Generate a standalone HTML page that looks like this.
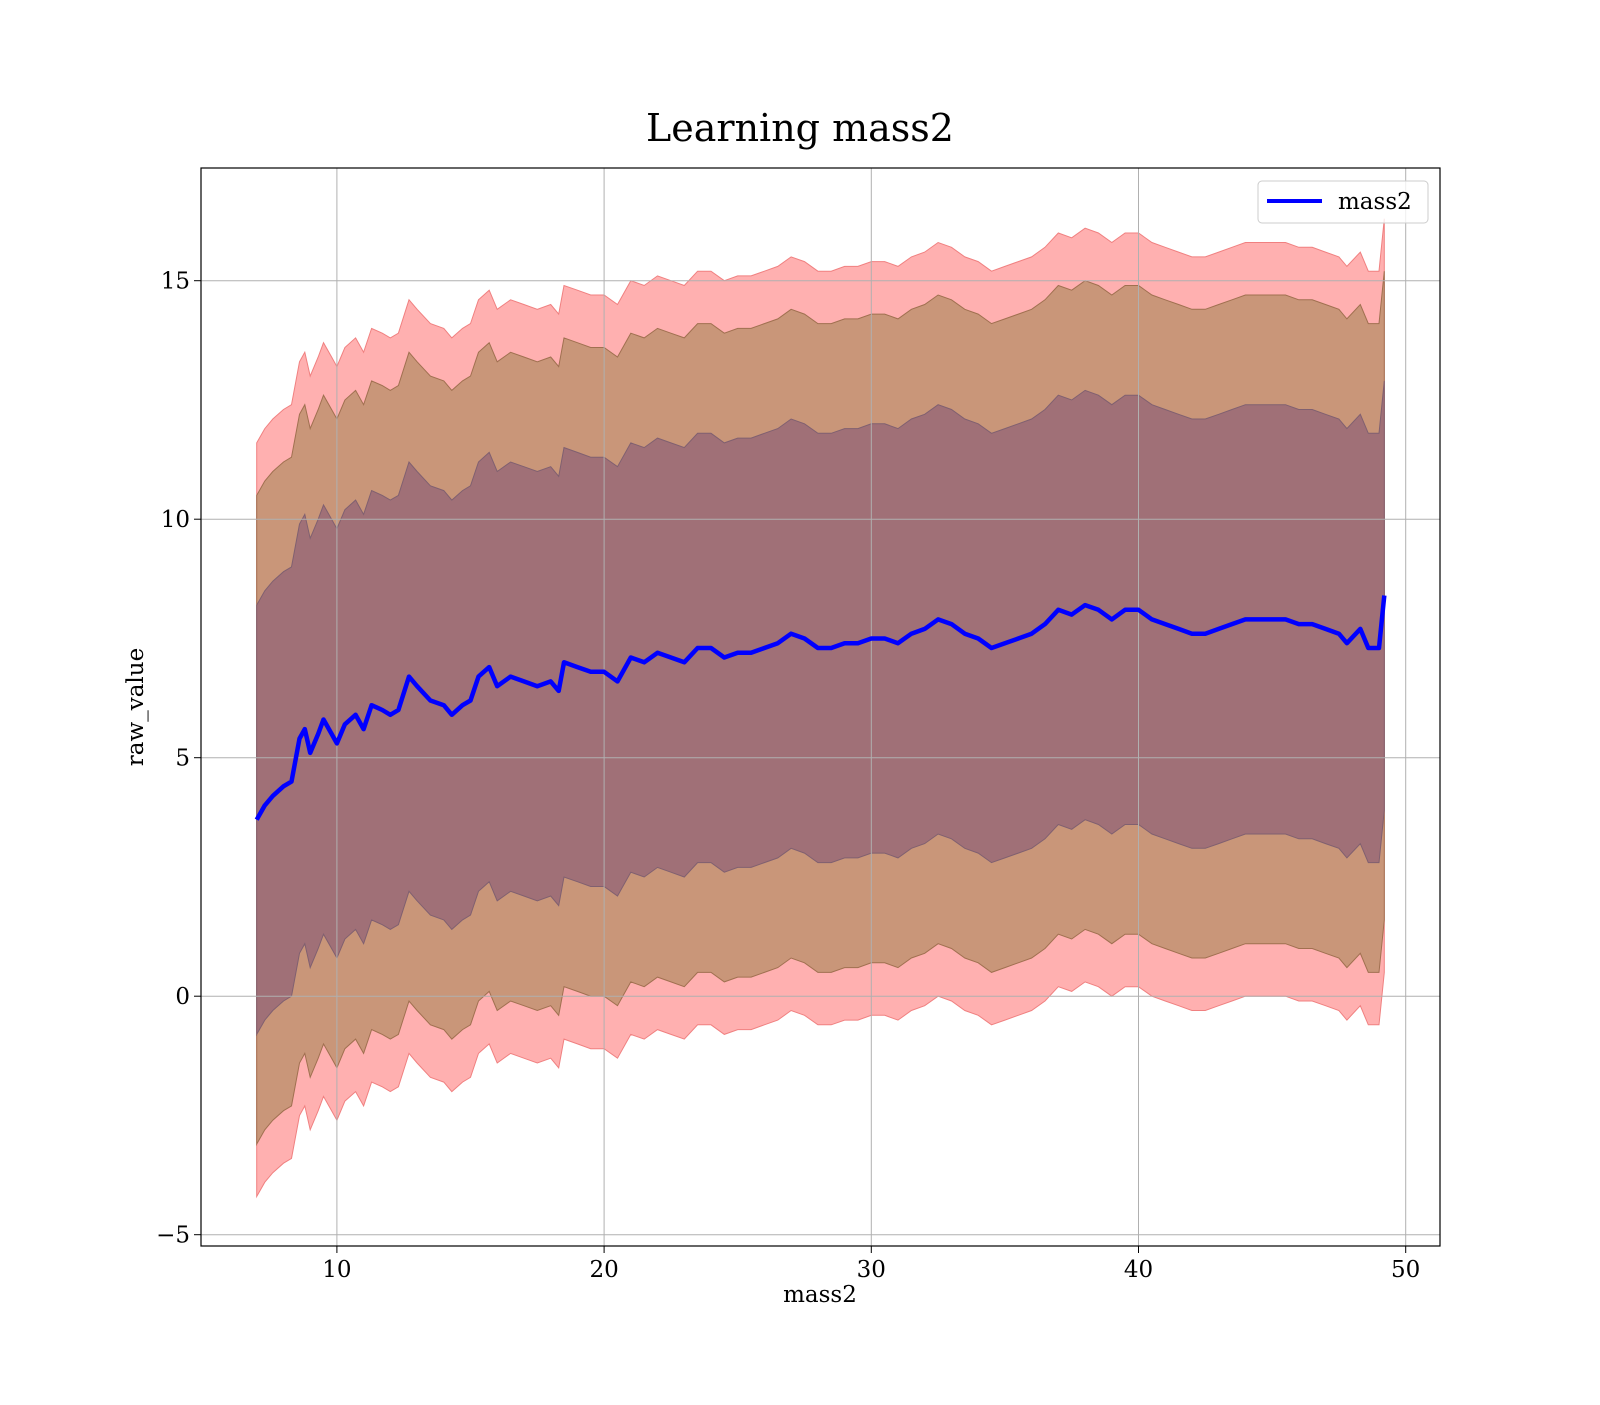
<!DOCTYPE html>
<html><head><meta charset="utf-8">
<style>
body{margin:0;background:#fff;}
svg text{font-family:"DejaVu Serif","Liberation Serif",serif;fill:#000;}
</style></head>
<body>
<svg id="chart" width="1600" height="1400" viewBox="0 0 1600 1400" xmlns="http://www.w3.org/2000/svg">
<rect x="0" y="0" width="1600" height="1400" fill="#fff"/>
<text x="800" y="141" font-size="38" text-anchor="middle">Learning mass2</text>
<g id="bands"></g>
<g id="grid"></g>
<g id="line"></g>
<g id="axes"></g>
<rect x="201" y="168" width="1239" height="1078" fill="none" stroke="#000" stroke-width="1.2"/>
<text x="820" y="1302" font-size="23" text-anchor="middle">mass2</text>
<text x="0" y="0" font-size="23" text-anchor="middle" transform="translate(143,707) rotate(-90)">raw_value</text>
<g>
<rect x="1258" y="181" width="170" height="42" rx="4" fill="#fff" fill-opacity="0.8" stroke="#ccc"/>
<line x1="1267" y1="201" x2="1322" y2="201" stroke="#0000ff" stroke-width="4"/>
<text x="1338" y="209" font-size="23">mass2</text>
</g>
</svg>
<script>
const xs=[7.0,7.3,7.6,8.0,8.3,8.6,8.8,9.0,9.3,9.5,9.8,10.0,10.3,10.7,11.0,11.3,11.7,12.0,12.3,12.7,13.0,13.5,14.0,14.3,14.7,15.0,15.3,15.7,16.0,16.5,17.0,17.5,18.0,18.3,18.5,19.0,19.5,20.0,20.5,21.0,21.5,22.0,22.5,23.0,23.5,24.0,24.5,25.0,25.5,26.0,26.5,27.0,27.5,28.0,28.5,29.0,29.5,30.0,30.5,31.0,31.5,32.0,32.5,33.0,33.5,34.0,34.5,35.0,35.5,36.0,36.5,37.0,37.5,38.0,38.5,39.0,39.5,40.0,40.5,41.0,41.5,42.0,42.5,43.0,43.5,44.0,44.5,45.0,45.5,46.0,46.5,47.0,47.5,47.8,48.3,48.6,49.0,49.2];
const meanVals=[3.7,4.0,4.2,4.4,4.5,5.4,5.6,5.1,5.5,5.8,5.5,5.3,5.7,5.9,5.6,6.1,6.0,5.9,6.0,6.7,6.5,6.2,6.1,5.9,6.1,6.2,6.7,6.9,6.5,6.7,6.6,6.5,6.6,6.4,7.0,6.9,6.8,6.8,6.6,7.1,7.0,7.2,7.1,7.0,7.3,7.3,7.1,7.2,7.2,7.3,7.4,7.6,7.5,7.3,7.3,7.4,7.4,7.5,7.5,7.4,7.6,7.7,7.9,7.8,7.6,7.5,7.3,7.4,7.5,7.6,7.8,8.1,8.0,8.2,8.1,7.9,8.1,8.1,7.9,7.8,7.7,7.6,7.6,7.7,7.8,7.9,7.9,7.9,7.9,7.8,7.8,7.7,7.6,7.4,7.7,7.3,7.3,8.4];
const bandWidths=[7.9,6.8,4.5];
const bandColors=["#ffb0b0","#c99679","#a07077"];
const bandEdges=["#f08080","#a07050","#806070"];
const xTicks=[10,20,30,40,50];
const yTicks=[-5,0,5,10,15];
const xScale=v=>69.7+26.72*v;
const yScale=v=>996.2-47.7*v;
const NS="http://www.w3.org/2000/svg";
const bands=document.getElementById('bands');
bandWidths.forEach((w,i)=>{
  let up=xs.map((x,j)=>xScale(x).toFixed(1)+','+yScale(meanVals[j]+w).toFixed(1));
  let lo=xs.map((x,j)=>xScale(x).toFixed(1)+','+yScale(meanVals[j]-w).toFixed(1)).reverse();
  const p=document.createElementNS(NS,'polygon');
  p.setAttribute('points',up.concat(lo).join(' '));
  p.setAttribute('fill',bandColors[i]);
  p.setAttribute('stroke',bandEdges[i]);
  p.setAttribute('stroke-width','1');
  
  
  bands.appendChild(p);
});
const grid=document.getElementById('grid'),axes=document.getElementById('axes');
xTicks.forEach(t=>{
  const x=xScale(t);
  const l=document.createElementNS(NS,'line');
  l.setAttribute('x1',x);l.setAttribute('x2',x);l.setAttribute('y1',168);l.setAttribute('y2',1246);
  l.setAttribute('stroke','#b0b0b0');l.setAttribute('stroke-width','1');
  
  
  grid.appendChild(l);
  const k=document.createElementNS(NS,'line');
  k.setAttribute('x1',x);k.setAttribute('x2',x);k.setAttribute('y1',1246);k.setAttribute('y2',1253);k.setAttribute('stroke','#000');
  
  
  axes.appendChild(k);
  const tx=document.createElementNS(NS,'text');
  tx.setAttribute('x',x);tx.setAttribute('y',1277);tx.setAttribute('font-size','23');tx.setAttribute('text-anchor','middle');
  tx.textContent=t;
  
  
  axes.appendChild(tx);
});
yTicks.forEach(t=>{
  const y=yScale(t);
  const l=document.createElementNS(NS,'line');
  l.setAttribute('x1',201);l.setAttribute('x2',1440);l.setAttribute('y1',y);l.setAttribute('y2',y);
  l.setAttribute('stroke','#b0b0b0');l.setAttribute('stroke-width','1');
  
  
  grid.appendChild(l);
  const k=document.createElementNS(NS,'line');
  k.setAttribute('x1',194);k.setAttribute('x2',201);k.setAttribute('y1',y);k.setAttribute('y2',y);k.setAttribute('stroke','#000');
  
  
  axes.appendChild(k);
  const tx=document.createElementNS(NS,'text');
  tx.setAttribute('x',190);tx.setAttribute('y',y+8);tx.setAttribute('font-size','23');tx.setAttribute('text-anchor','end');
  tx.textContent=t<0?'\u2212'+Math.abs(t):t;
  
  
  axes.appendChild(tx);
});
const pl=document.createElementNS(NS,'polyline');
pl.setAttribute('points',xs.map((x,j)=>xScale(x).toFixed(1)+','+yScale(meanVals[j]).toFixed(1)).join(' '));
pl.setAttribute('fill','none');pl.setAttribute('stroke','#0000ff');pl.setAttribute('stroke-width','4.5');pl.setAttribute('stroke-linejoin','round');


document.getElementById('line').appendChild(pl);
</script>
</body></html>
